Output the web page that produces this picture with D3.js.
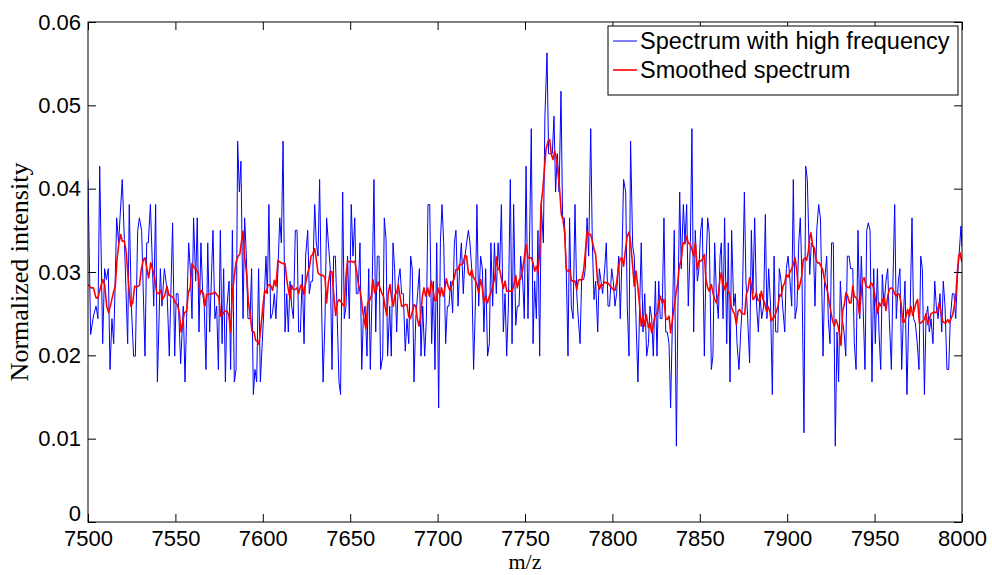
<!DOCTYPE html>
<html>
<head>
<meta charset="utf-8">
<script src="https://cdn.jsdelivr.net/npm/d3@7/dist/d3.min.js"></script>
<style>
  body { margin: 0; background: #fff; }
  svg text { font-family: "Liberation Sans", Arial, Helvetica, sans-serif; fill: #000; }
</style>
</head>
<body>
<svg id="grafico" width="992" height="575"></svg>
<script>
// Datos: m/z e intensidad normalizada
const mzAlta = [
  7500, 7501.5, 7503.1, 7504.6, 7505.7, 7506.7, 7508.4, 7509.5, 7510.5, 7511.6,
  7512.6, 7513.7, 7514.7, 7516.4, 7517.5, 7519.6, 7520.8, 7522.7, 7523.6, 7524.8,
  7526.1, 7527.1, 7528.4, 7529.4, 7530.7, 7532.6, 7533.6, 7534.5, 7535.7, 7537.6,
  7538.7, 7539.7, 7541.4, 7542.3, 7543.7, 7545.2, 7546.5, 7548.4, 7549.6, 7550.5,
  7551.5, 7553.0, 7554.5, 7555.5, 7556.4, 7557.6, 7558.5, 7559.5, 7560.4, 7561.6,
  7562.5, 7563.5, 7564.6, 7565.6, 7566.5, 7567.5, 7568.5, 7569.6, 7571.5, 7572.6,
  7573.6, 7574.6, 7575.7, 7576.7, 7577.6, 7578.6, 7579.5, 7580.7, 7581.6, 7582.6,
  7583.7, 7584.7, 7585.6, 7586.6, 7587.5, 7588.7, 7589.6, 7590.6, 7591.5, 7592.7,
  7593.6, 7594.6, 7595.5, 7596.5, 7597.6, 7598.6, 7599.7, 7600.7, 7601.8, 7602.6,
  7603.5, 7604.5, 7605.6, 7606.6, 7607.5, 7608.7, 7609.7, 7610.6, 7611.6, 7612.7,
  7613.7, 7614.6, 7615.6, 7616.5, 7617.5, 7618.6, 7619.6, 7620.5, 7621.5, 7622.6,
  7623.6, 7624.5, 7625.7, 7626.6, 7627.6, 7628.5, 7629.7, 7630.6, 7631.6, 7632.5,
  7633.5, 7634.5, 7635.6, 7636.5, 7637.5, 7638.6, 7639.6, 7640.5, 7641.5, 7642.4,
  7643.6, 7644.5, 7645.7, 7646.6, 7647.6, 7648.5, 7649.5, 7650.6, 7651.6, 7652.6,
  7653.5, 7654.5, 7655.6, 7656.6, 7657.5, 7658.5, 7659.6, 7660.6, 7661.5, 7662.5,
  7663.6, 7664.6, 7665.5, 7666.5, 7667.4, 7668.6, 7669.5, 7670.5, 7671.4, 7672.6,
  7673.5, 7674.5, 7675.4, 7676.6, 7677.5, 7678.5, 7679.4, 7680.4, 7681.5, 7682.5,
  7683.5, 7684.6, 7685.5, 7686.5, 7687.5, 7688.6, 7689.6, 7690.5, 7691.5, 7692.6,
  7693.6, 7694.5, 7695.5, 7696.6, 7697.6, 7698.5, 7699.5, 7700.6, 7701.6, 7702.5,
  7703.5, 7704.6, 7705.6, 7706.5, 7707.5, 7708.6, 7709.6, 7710.5, 7711.7, 7712.6,
  7713.6, 7714.7, 7715.7, 7716.6, 7717.6, 7718.5, 7719.5, 7720.6, 7721.6, 7722.5,
  7723.5, 7724.6, 7725.6, 7726.5, 7727.5, 7728.6, 7729.6, 7730.5, 7731.5, 7732.5,
  7733.6, 7734.6, 7735.5, 7736.5, 7737.6, 7738.6, 7739.5, 7740.5, 7741.6, 7742.6,
  7743.5, 7744.7, 7745.6, 7746.6, 7747.5, 7748.7, 7749.6, 7750.6, 7751.7, 7752.7,
  7753.6, 7754.6, 7755.5, 7756.5, 7757.4, 7758.4, 7759.3, 7760.5, 7761.4, 7762.6,
  7763.5, 7764.7, 7765.6, 7766.6, 7767.5, 7768.5, 7769.5, 7770.6, 7771.5, 7772.5,
  7773.6, 7774.6, 7775.5, 7776.5, 7777.5, 7778.6, 7779.6, 7780.5, 7781.5, 7782.4,
  7783.6, 7784.5, 7785.5, 7786.4, 7787.6, 7788.5, 7789.5, 7790.4, 7791.6, 7792.5,
  7793.5, 7794.4, 7795.6, 7796.5, 7797.5, 7798.4, 7799.6, 7800.5, 7801.5, 7802.4,
  7803.6, 7804.5, 7805.5, 7806.4, 7807.6, 7808.5, 7809.5, 7810.4, 7811.6, 7812.5,
  7813.5, 7814.6, 7815.6, 7816.5, 7817.5, 7818.5, 7819.6, 7820.6, 7821.5, 7822.5,
  7823.4, 7824.6, 7825.5, 7826.5, 7827.4, 7828.4, 7829.5, 7830.5, 7831.4, 7832.4,
  7833.3, 7834.5, 7835.4, 7836.6, 7837.5, 7838.5, 7839.4, 7840.6, 7841.5, 7842.5,
  7843.4, 7844.6, 7845.5, 7846.5, 7847.4, 7848.6, 7849.5, 7850.5, 7851.4, 7852.6,
  7853.5, 7854.5, 7855.4, 7856.6, 7857.5, 7858.5, 7859.5, 7860.6, 7861.6, 7862.3,
  7863.3, 7864.2, 7865.4, 7866.3, 7867.3, 7868.2, 7869.4, 7870.3, 7871.3, 7872.4,
  7873.4, 7874.3, 7875.5, 7876.4, 7877.4, 7878.5, 7879.5, 7880.4, 7881.4, 7882.5,
  7883.5, 7884.4, 7885.4, 7886.5, 7887.5, 7888.4, 7889.4, 7890.5, 7891.5, 7892.5,
  7893.4, 7894.6, 7895.5, 7896.5, 7897.4, 7898.6, 7899.5, 7900.5, 7901.6, 7902.6,
  7903.5, 7904.5, 7905.6, 7906.6, 7907.5, 7908.5, 7909.6, 7910.6, 7911.5, 7912.9,
  7913.8, 7915.0, 7915.9, 7916.9, 7918.0, 7919.0, 7919.9, 7920.5, 7921.4, 7922.6,
  7923.5, 7924.5, 7925.4, 7926.4, 7927.5, 7928.5, 7929.4, 7930.4, 7931.5, 7932.5,
  7933.5, 7934.4, 7935.4, 7936.3, 7937.5, 7938.4, 7939.4, 7940.5, 7941.5, 7942.4,
  7943.4, 7944.5, 7945.5, 7946.4, 7947.4, 7948.5, 7949.5, 7950.4, 7951.6, 7952.5,
  7953.5, 7954.4, 7955.4, 7956.5, 7957.5, 7958.4, 7959.6, 7960.5, 7961.5, 7962.4,
  7963.6, 7964.5, 7965.5, 7966.4, 7967.4, 7968.5, 7969.5, 7970.4, 7971.4, 7972.3,
  7973.3, 7974.4, 7975.4, 7976.4, 7977.3, 7978.5, 7979.4, 7980.4, 7981.3, 7982.3,
  7983.4, 7984.4, 7985.3, 7986.3, 7987.4, 7988.4, 7989.3, 7990.3, 7991.4, 7992.4,
  7993.3, 7994.5, 7995.4, 7996.4, 7997.3, 7998.3, 7999.4, 8000
];
const intAlta = [
  .0411, .0225, .0247, .0259, .0244, .0427, .0214, .0304, .0291, .0304,
  .0183, .0244, .0214, .0365, .0335, .0411, .0339, .0214, .0381, .0259,
  .0199, .0199, .0349, .0365, .0349, .0199, .0335, .0335, .0381, .0259,
  .0381, .0168, .0304, .0259, .0304, .0279, .0199, .0359, .0199, .0274,
  .0274, .0190, .0259, .0168, .0244, .0335, .0304, .0244, .0365, .0289,
  .0365, .0228, .0335, .0275, .0259, .0183, .0335, .0228, .0350, .0244,
  .0259, .0183, .0350, .0214, .0304, .0168, .0259, .0289, .0183, .0350,
  .0168, .0183, .0457, .0396, .0433, .0244, .0365, .0319, .0244, .0244,
  .0304, .0153, .0183, .0168, .0304, .0168, .0215, .0259, .0319, .0274,
  .0381, .0244, .0251, .0274, .0244, .0304, .0365, .0335, .0457, .0228,
  .0274, .0228, .0289, .0259, .0244, .0350, .0350, .0228, .0228, .0297,
  .0214, .0319, .0350, .0274, .0289, .0289, .0381, .0335, .0319, .0411,
  .0275, .0168, .0244, .0365, .0335, .0304, .0183, .0319, .0319, .0259,
  .0168, .0153, .0396, .0244, .0259, .0319, .0244, .0381, .0319, .0365,
  .0274, .0274, .0335, .0183, .0244, .0259, .0199, .0304, .0183, .0274,
  .0411, .0228, .0319, .0319, .0183, .0199, .0365, .0339, .0199, .0259,
  .0199, .0335, .0304, .0228, .0289, .0304, .0274, .0274, .0205, .0244,
  .0214, .0319, .0304, .0168, .0244, .0275, .0304, .0199, .0259, .0199,
  .0244, .0381, .0381, .0214, .0289, .0183, .0335, .0137, .0335, .0381,
  .0335, .0214, .0259, .0259, .0289, .0251, .0335, .0350, .0259, .0304,
  .0335, .0274, .0319, .0335, .0350, .0335, .0304, .0183, .0259, .0381,
  .0259, .0319, .0304, .0228, .0304, .0199, .0214, .0335, .0259, .0335,
  .0274, .0335, .0304, .0381, .0228, .0274, .0199, .0259, .0411, .0214,
  .0381, .0236, .0259, .0259, .0319, .0289, .0244, .0427, .0244, .0350,
  .0472, .0214, .0289, .0244, .0350, .0199, .0381, .0335, .0487, .0563,
  .0442, .0442, .0442, .0487, .0396, .0442, .0396, .0517, .0365, .0365,
  .0304, .0199, .0365, .0259, .0244, .0381, .0274, .0244, .0214, .0291,
  .0291, .0304, .0365, .0319, .0472, .0335, .0267, .0289, .0228, .0304,
  .0289, .0274, .0304, .0335, .0259, .0259, .0304, .0289, .0259, .0274,
  .0319, .0244, .0319, .0411, .0396, .0259, .0199, .0457, .0331, .0319,
  .0244, .0168, .0259, .0335, .0228, .0274, .0199, .0214, .0259, .0244,
  .0199, .0289, .0199, .0289, .0244, .0244, .0365, .0228, .0228, .0214,
  .0137, .0259, .0350, .0091, .0259, .0396, .0304, .0381, .0335, .0381,
  .0259, .0335, .0472, .0228, .0350, .0289, .0304, .0350, .0365, .0199,
  .0304, .0365, .0347, .0183, .0199, .0335, .0274, .0244, .0319, .0335,
  .0244, .0365, .0214, .0335, .0168, .0350, .0259, .0274, .0214, .0183,
  .0228, .0259, .0396, .0289, .0244, .0191, .0350, .0274, .0365, .0259,
  .0228, .0274, .0244, .0259, .0369, .0244, .0304, .0259, .0153, .0319,
  .0228, .0228, .0304, .0289, .0259, .0228, .0304, .0319, .0289, .0259,
  .0411, .0244, .0259, .0335, .0365, .0289, .0107, .0427, .0411, .0297,
  .0335, .0331, .0259, .0350, .0381, .0365, .0267, .0199, .0289, .0319,
  .0244, .0214, .0335, .0335, .0091, .0228, .0168, .0289, .0244, .0228,
  .0199, .0319, .0319, .0304, .0304, .0214, .0183, .0350, .0244, .0319,
  .0259, .0183, .0350, .0359, .0350, .0168, .0304, .0214, .0304, .0228,
  .0183, .0297, .0259, .0289, .0304, .0244, .0183, .0289, .0381, .0244,
  .0289, .0304, .0183, .0244, .0289, .0153, .0244, .0259, .0365, .0244,
  .0239, .0214, .0183, .0319, .0304, .0153, .0244, .0259, .0228, .0244,
  .0214, .0289, .0259, .0244, .0274, .0228, .0289, .0259, .0183, .0183,
  .0244, .0274, .0274, .0244, .0291, .0319, .0355, .0330
];

const mzSuave = [
  7500, 7501.7, 7503.1, 7504.6, 7505.7, 7507.1, 7508.4, 7509.5, 7510.7, 7511.8,
  7513.2, 7514.5, 7515.6, 7516.6, 7517.7, 7518.7, 7519.6, 7520.8, 7521.9, 7523.3,
  7524.4, 7525.6, 7526.7, 7527.8, 7529.4, 7530.5, 7531.7, 7532.6, 7533.8, 7534.7,
  7535.9, 7537.0, 7538.1, 7539.3, 7540.4, 7541.6, 7542.7, 7543.9, 7545.2, 7546.3,
  7547.7, 7548.8, 7550.0, 7551.1, 7552.3, 7553.2, 7555.1, 7556.4, 7557.4, 7558.5,
  7559.5, 7560.8, 7562.0, 7563.1, 7564.1, 7565.0, 7566.0, 7566.9, 7567.9, 7569.0,
  7570.4, 7571.3, 7572.6, 7573.6, 7574.8, 7575.9, 7577.0, 7578.2, 7579.3, 7580.5,
  7581.6, 7582.6, 7583.7, 7584.7, 7585.8, 7586.8, 7587.7, 7588.7, 7589.6, 7590.8,
  7591.7, 7592.9, 7593.8, 7595.0, 7595.9, 7596.9, 7597.8, 7599.0, 7600.1, 7601.1,
  7602.0, 7603.0, 7603.9, 7604.7, 7605.6, 7606.6, 7607.5, 7608.7, 7609.7, 7610.6,
  7611.6, 7612.7, 7613.7, 7614.6, 7615.6, 7616.5, 7617.5, 7618.6, 7619.6, 7620.5,
  7621.7, 7622.6, 7623.6, 7624.5, 7625.7, 7626.6, 7627.6, 7628.5, 7629.7, 7630.6,
  7631.6, 7632.5, 7633.5, 7634.4, 7635.6, 7636.5, 7637.5, 7638.6, 7639.6, 7640.5,
  7641.7, 7642.6, 7643.6, 7644.5, 7645.7, 7646.6, 7647.6, 7648.5, 7649.7, 7650.6,
  7651.6, 7652.6, 7653.5, 7654.6, 7655.6, 7656.4, 7657.1, 7658.1, 7659.0, 7660.0,
  7660.9, 7662.1, 7663.0, 7664.0, 7664.9, 7665.9, 7667.0, 7668.0, 7669.0, 7669.9,
  7670.9, 7671.8, 7672.8, 7673.7, 7674.7, 7675.6, 7676.6, 7677.5, 7678.5, 7679.4,
  7680.4, 7681.5, 7682.5, 7683.4, 7684.4, 7685.4, 7686.5, 7687.5, 7688.4, 7689.4,
  7690.3, 7691.3, 7692.2, 7693.2, 7694.3, 7695.3, 7696.4, 7697.4, 7698.3, 7699.3,
  7700.2, 7701.4, 7702.3, 7703.3, 7704.2, 7705.0, 7706.0, 7707.1, 7707.9, 7708.6,
  7709.6, 7710.5, 7711.7, 7712.6, 7713.6, 7714.5, 7715.7, 7716.6, 7717.6, 7718.5,
  7719.5, 7720.4, 7721.6, 7722.5, 7723.5, 7724.6, 7725.6, 7726.5, 7727.5, 7728.6,
  7729.6, 7730.5, 7731.5, 7732.7, 7733.6, 7734.6, 7735.5, 7736.5, 7737.6, 7738.6,
  7739.5, 7740.5, 7741.6, 7742.6, 7743.5, 7744.7, 7745.6, 7746.6, 7747.5, 7748.7,
  7749.6, 7750.6, 7751.7, 7752.7, 7753.6, 7754.6, 7755.5, 7756.5, 7757.4, 7758.4,
  7759.2, 7760.1, 7761.1, 7762.0, 7763.2, 7764.1, 7765.1, 7766.0, 7767.0, 7767.9,
  7768.9, 7769.8, 7770.8, 7771.7, 7772.7, 7773.6, 7774.6, 7775.6, 7776.5, 7777.5,
  7778.6, 7779.6, 7780.5, 7781.5, 7782.4, 7783.6, 7784.5, 7785.5, 7786.4, 7787.6,
  7788.5, 7789.5, 7790.4, 7791.6, 7792.5, 7793.5, 7794.4, 7795.6, 7796.5, 7797.5,
  7798.4, 7799.6, 7800.5, 7801.5, 7802.4, 7803.6, 7804.5, 7805.5, 7806.4, 7807.6,
  7808.5, 7809.5, 7810.4, 7811.6, 7812.5, 7813.5, 7814.5, 7815.6, 7816.5, 7817.5,
  7818.5, 7819.4, 7820.6, 7821.5, 7822.5, 7823.4, 7824.6, 7825.5, 7826.5, 7827.4,
  7828.4, 7829.5, 7830.5, 7831.4, 7832.4, 7833.3, 7834.5, 7835.4, 7836.4, 7837.3,
  7838.3, 7839.4, 7840.4, 7841.5, 7842.5, 7843.4, 7844.6, 7845.5, 7846.5, 7847.4,
  7848.6, 7849.5, 7850.5, 7851.4, 7852.6, 7853.5, 7854.5, 7855.4, 7856.6, 7857.5,
  7858.5, 7859.5, 7860.6, 7861.6, 7862.3, 7863.1, 7864.0, 7865.0, 7866.0, 7866.9,
  7868.0, 7869.0, 7870.0, 7870.9, 7871.9, 7872.8, 7873.8, 7874.7, 7875.7, 7876.6,
  7877.6, 7878.5, 7879.5, 7880.4, 7881.4, 7882.3, 7883.3, 7884.3, 7885.2, 7886.2,
  7887.1, 7888.1, 7889.0, 7890.0, 7890.9, 7891.9, 7892.8, 7893.8, 7894.7, 7895.7,
  7896.6, 7897.6, 7898.6, 7899.5, 7900.5, 7901.4, 7902.4, 7903.5, 7904.5, 7905.4,
  7906.4, 7907.3, 7908.3, 7909.2, 7910.2, 7911.1, 7912.1, 7913.0, 7913.6, 7914.6,
  7915.5, 7916.5, 7917.4, 7918.4, 7919.3, 7920.3, 7921.2, 7922.2, 7923.2, 7924.1,
  7925.1, 7926.0, 7927.0, 7927.9, 7928.9, 7929.8, 7930.8, 7931.7, 7932.7, 7933.6,
  7934.6, 7935.6, 7936.5, 7937.5, 7938.4, 7939.4, 7940.3, 7941.3, 7942.2, 7943.2,
  7944.1, 7945.1, 7946.0, 7947.0, 7947.9, 7948.9, 7949.9, 7950.8, 7951.8, 7952.7,
  7953.7, 7954.6, 7955.6, 7956.5, 7957.5, 7958.4, 7959.4, 7960.3, 7961.3, 7962.2,
  7963.2, 7964.2, 7965.1, 7966.1, 7967.0, 7968.0, 7968.9, 7969.9, 7970.8, 7971.8,
  7972.7, 7973.7, 7974.6, 7975.6, 7976.5, 7977.5, 7978.5, 7979.4, 7980.4, 7981.3,
  7982.3, 7983.2, 7984.2, 7985.1, 7986.1, 7987.0, 7988.0, 7988.9, 7989.9, 7990.8,
  7991.8, 7992.8, 7993.7, 7994.7, 7995.6, 7996.6, 7997.3, 7998.1, 7998.9, 7999.6,
  8000
];
const intSuave = [
  .0285, .0281, .0281, .0269, .0269, .0281, .0291, .0285, .0259, .0251,
  .0263, .0275, .0283, .0315, .0335, .0345, .0337, .0337, .0323, .0283,
  .0259, .0263, .0283, .0282, .0284, .0303, .0315, .0317, .0303, .0293,
  .0311, .0303, .0293, .0275, .0274, .0278, .0267, .0272, .0283, .0272,
  .0271, .0269, .0263, .0261, .0251, .0228, .0251, .0253, .0275, .0281,
  .0310, .0305, .0303, .0297, .0273, .0278, .0274, .0259, .0273, .0273,
  .0274, .0274, .0276, .0273, .0270, .0247, .0249, .0253, .0253, .0249,
  .0228, .0275, .0295, .0312, .0319, .0321, .0335, .0349, .0317, .0297,
  .0265, .0247, .0229, .0228, .0218, .0217, .0213, .0235, .0259, .0278,
  .0275, .0284, .0285, .0283, .0278, .0290, .0283, .0314, .0312, .0311,
  .0310, .0310, .0291, .0279, .0268, .0284, .0279, .0279, .0281, .0274,
  .0284, .0283, .0273, .0287, .0299, .0305, .0319, .0321, .0328, .0315,
  .0299, .0297, .0296, .0296, .0293, .0263, .0287, .0301, .0300, .0275,
  .0248, .0263, .0267, .0265, .0261, .0259, .0295, .0313, .0312, .0313,
  .0312, .0313, .0303, .0287, .0277, .0267, .0254, .0241, .0232, .0263,
  .0265, .0271, .0291, .0275, .0278, .0288, .0281, .0275, .0271, .0259,
  .0248, .0275, .0285, .0269, .0259, .0273, .0275, .0285, .0271, .0259,
  .0259, .0261, .0261, .0247, .0244, .0251, .0261, .0259, .0244, .0235,
  .0247, .0271, .0281, .0271, .0281, .0271, .0289, .0278, .0266, .0266,
  .0281, .0271, .0281, .0271, .0281, .0292, .0283, .0278, .0283, .0288,
  .0293, .0303, .0303, .0309, .0309, .0310, .0320, .0319, .0299, .0296,
  .0303, .0294, .0290, .0285, .0275, .0291, .0281, .0263, .0271, .0263,
  .0271, .0275, .0283, .0293, .0318, .0303, .0303, .0292, .0280, .0289,
  .0277, .0277, .0277, .0277, .0283, .0296, .0281, .0290, .0292, .0303,
  .0317, .0333, .0317, .0317, .0317, .0311, .0301, .0307, .0299, .0323,
  .0381, .0397, .0423, .0447, .0457, .0459, .0441, .0435, .0445, .0437,
  .0421, .0399, .0369, .0363, .0347, .0303, .0301, .0303, .0290, .0289,
  .0289, .0279, .0290, .0291, .0290, .0303, .0323, .0349, .0345, .0345,
  .0337, .0327, .0321, .0287, .0279, .0285, .0284, .0288, .0287, .0287,
  .0284, .0281, .0279, .0278, .0287, .0307, .0316, .0317, .0307, .0329,
  .0343, .0348, .0335, .0307, .0283, .0301, .0283, .0259, .0235, .0247,
  .0235, .0249, .0233, .0239, .0227, .0237, .0249, .0249, .0263, .0271,
  .0263, .0267, .0245, .0243, .0247, .0227, .0245, .0259, .0275, .0285,
  .0307, .0315, .0335, .0334, .0343, .0335, .0333, .0327, .0319, .0335,
  .0303, .0313, .0313, .0315, .0321, .0291, .0281, .0277, .0285, .0275,
  .0267, .0263, .0273, .0293, .0299, .0287, .0279, .0287, .0278, .0275,
  .0259, .0253, .0249, .0237, .0253, .0255, .0251, .0250, .0249, .0273,
  .0279, .0293, .0285, .0267, .0269, .0275, .0266, .0265, .0277, .0267,
  .0263, .0253, .0259, .0253, .0241, .0245, .0246, .0253, .0259, .0273,
  .0271, .0283, .0287, .0297, .0294, .0299, .0303, .0309, .0317, .0303,
  .0279, .0285, .0295, .0315, .0317, .0314, .0325, .0343, .0347, .0331,
  .0329, .0315, .0311, .0311, .0307, .0303, .0292, .0283, .0275, .0263,
  .0251, .0241, .0235, .0243, .0237, .0227, .0212, .0253, .0261, .0275,
  .0271, .0263, .0263, .0283, .0271, .0269, .0267, .0249, .0271, .0291,
  .0293, .0283, .0282, .0281, .0287, .0285, .0275, .0263, .0250, .0263,
  .0259, .0267, .0269, .0254, .0271, .0279, .0281, .0280, .0275, .0271,
  .0274, .0273, .0263, .0240, .0240, .0247, .0255, .0247, .0259, .0248,
  .0255, .0263, .0267, .0239, .0239, .0241, .0243, .0250, .0237, .0243,
  .0250, .0251, .0252, .0251, .0255, .0263, .0251, .0241, .0239, .0239,
  .0243, .0239, .0244, .0249, .0259, .0275, .0299, .0319, .0323, .0315,
  .0312
];

const ticksX = [7500, 7550, 7600, 7650, 7700, 7750, 7800, 7850, 7900, 7950, 8000];
const ticksY = [0, 0.01, 0.02, 0.03, 0.04, 0.05, 0.06];
const nombresSeries = ['Spectrum with high frequency', 'Smoothed spectrum'];
const coloresSeries = ['#0000ff', '#ff0000'];

// Dimensiones
const margen = { izq: 88, der: 30, sup: 22, inf: 53 };
const ancho = 992 - margen.izq - margen.der;
const alto = 575 - margen.sup - margen.inf;

const svg = d3.select('#grafico');
const g = svg.append('g').attr('transform', `translate(${margen.izq},${margen.sup})`);

const x = d3.scaleLinear().domain([7500, 8000]).range([0, ancho]);
const y = d3.scaleLinear().domain([0, 0.06]).range([alto, 0]);

g.append('clipPath').attr('id', 'recorte')
  .append('rect').attr('width', ancho).attr('height', alto);

const linea = d3.line()
  .x(d => x(d[0]))
  .y(d => y(d[1]));

// Espectro con alta frecuencia
g.append('path')
  .datum(d3.zip(mzAlta, intAlta))
  .attr('clip-path', 'url(#recorte)')
  .attr('fill', 'none')
  .attr('stroke', coloresSeries[0])
  .attr('stroke-width', 1)
  .attr('d', linea);

// Espectro suavizado
g.append('path')
  .datum(d3.zip(mzSuave, intSuave))
  .attr('clip-path', 'url(#recorte)')
  .attr('fill', 'none')
  .attr('stroke', coloresSeries[1])
  .attr('stroke-width', 1.6)
  .attr('stroke-linejoin', 'round')
  .attr('d', linea);

// Ejes con marcas hacia adentro (estilo matlab)
const largoMarca = 8;
const ejeX = g.append('g').attr('transform', `translate(0,${alto})`)
  .call(d3.axisBottom(x).tickValues(ticksX).tickSize(-largoMarca).tickPadding(8).tickFormat(d3.format('d')));
const ejeY = g.append('g')
  .call(d3.axisLeft(y).tickValues(ticksY).tickSize(-largoMarca).tickPadding(7)
    .tickFormat(d => d === 0 ? '0' : d.toFixed(2)));
const ejeArriba = g.append('g')
  .call(d3.axisTop(x).tickValues(ticksX).tickSize(-largoMarca).tickFormat(''));
const ejeDerecha = g.append('g').attr('transform', `translate(${ancho},0)`)
  .call(d3.axisRight(y).tickValues(ticksY).tickSize(-largoMarca).tickFormat(''));

[ejeX, ejeY, ejeArriba, ejeDerecha].forEach(eje => {
  eje.select('.domain').remove();
  eje.selectAll('line').attr('stroke', '#000').attr('stroke-width', 1);
  eje.selectAll('text').style('font-size', '22px').attr('fill', '#000');
});

// el "0" queda pegado encima del 7500, como en el original
ejeY.selectAll('.tick').filter(d => d === 0).select('text').attr('dy', '-0.05em');

g.append('rect')
  .attr('width', ancho)
  .attr('height', alto)
  .attr('fill', 'none')
  .attr('stroke', '#000')
  .attr('stroke-width', 1);

// Titulos de los ejes
svg.append('text')
  .attr('x', margen.izq + ancho / 2)
  .attr('y', 569)
  .attr('text-anchor', 'middle')
  .style('font-family', '"Liberation Serif", "Times New Roman", serif')
  .style('font-size', '22px')
  .text('m/z');

svg.append('text')
  .attr('transform', `translate(28,${margen.sup + alto / 2}) rotate(-90)`)
  .attr('text-anchor', 'middle')
  .style('font-family', '"Liberation Serif", "Times New Roman", serif')
  .style('font-size', '26px')
  .text('Normalized intensity');

// Leyenda
const leyenda = svg.append('g').attr('transform', 'translate(608,26)');
leyenda.append('rect')
  .attr('width', 350)
  .attr('height', 69)
  .attr('fill', '#fff')
  .attr('stroke', '#000')
  .attr('stroke-width', 1);

nombresSeries.forEach((nombre, i) => {
  const fila = leyenda.append('g').attr('transform', `translate(0,${15 + i * 29})`);
  fila.append('line')
    .attr('x1', 5).attr('x2', 29)
    .attr('stroke', coloresSeries[i])
    .attr('stroke-width', i === 0 ? 1 : 1.6);
  fila.append('text')
    .attr('x', 32)
    .attr('dy', '0.36em')
    .style('font-size', '23.5px')
    .text(nombre);
});
</script>
</body>
</html>
